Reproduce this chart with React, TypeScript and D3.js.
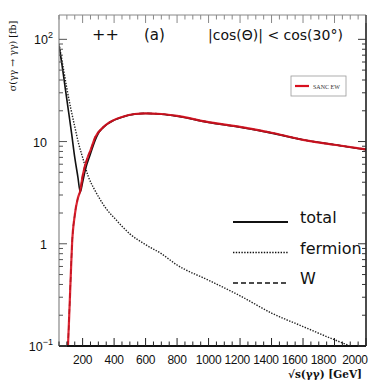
import { useEffect, useRef } from "react";
import * as d3 from "d3";

// sqrt(s) grid and values [fb]
const totalS = [50, 70, 90, 110, 130, 150, 170, 185, 200, 220, 250, 280, 300, 330, 400, 450, 530, 600, 700, 800, 1000, 1200, 1400, 1600, 1800, 2000];
const totalV = [87, 55, 33, 20, 12, 7, 4.5, 3.2, 4.0, 5.5, 7.6, 10.3, 12, 13.7, 16.2, 17.3, 18.5, 18.8, 18.5, 17.7, 15.4, 13.8, 12.1, 10.4, 9.3, 8.3];

const fermS = [50, 75, 100, 125, 150, 175, 200, 235, 275, 300, 350, 400, 500, 600, 700, 800, 1000, 1200, 1400, 1600, 1800, 2000];
const fermV = [90, 55, 33, 21, 14, 9.5, 7, 4.6, 3.4, 2.9, 2.2, 1.8, 1.25, 0.98, 0.8, 0.62, 0.44, 0.31, 0.21, 0.155, 0.115, 0.088];

const wS = [107, 115, 125, 133, 150, 170, 185, 200, 235, 250, 280, 330, 400, 450, 530, 600, 700, 800, 1000, 1200, 1400, 1600, 1800, 2000];
const wV = [0.1, 0.2, 0.5, 1.0, 1.9, 2.8, 3.3, 4.6, 7.2, 8.2, 11, 13.8, 16.3, 17.4, 18.6, 18.9, 18.6, 17.8, 15.5, 13.9, 12.2, 10.4, 9.3, 8.4];
const sancV = wV;

const xTickLabels = [200, 400, 600, 800, 1000, 1200, 1400, 1600, 1800, 2000];
const legendNames = ["total", "fermion", "W"];

export default function App() {
  const ref = useRef<SVGSVGElement>(null);

  useEffect(() => {
    const svg = d3.select(ref.current);
    svg.selectAll("*").remove();

    const left = 59, right = 366, top = 15, bottom = 346;
    const x = d3.scaleLinear().domain([50, 2000]).range([left, right]);
    const y = d3.scaleLog().domain([0.1, 173]).range([bottom, top]);

    svg.append("defs").append("clipPath").attr("id", "plotclip")
      .append("rect").attr("x", left).attr("y", top).attr("width", right - left).attr("height", bottom - top);

    const line = d3.line<[number, number]>()
      .x(d => x(d[0]))
      .y(d => y(d[1]))
      .curve(d3.curveMonotoneX);

    const g = svg.append("g").attr("clip-path", "url(#plotclip)");

    // fermion (dotted)
    g.append("path")
      .attr("d", line(fermS.map((s, i) => [s, fermV[i]] as [number, number])))
      .attr("fill", "none").attr("stroke", "#222").attr("stroke-width", 1.4)
      .attr("stroke-dasharray", "1.4,1.4");

    // W (dashed)
    g.append("path")
      .attr("d", line(wS.map((s, i) => [s, wV[i]] as [number, number])))
      .attr("fill", "none").attr("stroke", "#222").attr("stroke-width", 1.4)
      .attr("stroke-dasharray", "5,3");

    // total (solid)
    g.append("path")
      .attr("d", line(totalS.map((s, i) => [s, totalV[i]] as [number, number])))
      .attr("fill", "none").attr("stroke", "#111").attr("stroke-width", 1.6);

    // SANC EW (red)
    g.append("path")
      .attr("d", line(wS.map((s, i) => [s, sancV[i]] as [number, number])))
      .attr("fill", "none").attr("stroke", "#d8101e").attr("stroke-width", 2.2)
      .attr("opacity", 0.9);

    // frame
    svg.append("line").attr("x1", left).attr("x2", right).attr("y1", top).attr("y2", top).attr("stroke", "#888").attr("stroke-width", 1);
    svg.append("line").attr("x1", left).attr("x2", left).attr("y1", top).attr("y2", bottom).attr("stroke", "#888").attr("stroke-width", 1.2);
    svg.append("line").attr("x1", right).attr("x2", right).attr("y1", top).attr("y2", bottom).attr("stroke", "#111").attr("stroke-width", 1.5);
    svg.append("line").attr("x1", left).attr("x2", right).attr("y1", bottom).attr("y2", bottom).attr("stroke", "#111").attr("stroke-width", 1.8);

    // x ticks (inward, bottom and top)
    const xt = d3.range(50, 2001, 50);
    xt.forEach(v => {
      const major = v % 200 === 0;
      const len = major ? 8 : 4.5;
      svg.append("line").attr("x1", x(v)).attr("x2", x(v)).attr("y1", bottom).attr("y2", bottom - len)
        .attr("stroke", "#222").attr("stroke-width", 1);
      svg.append("line").attr("x1", x(v)).attr("x2", x(v)).attr("y1", top).attr("y2", top + len)
        .attr("stroke", "#888").attr("stroke-width", 1);
    });

    // y ticks (inward, left and right)
    const yt: number[] = [];
    [0.1, 1, 10, 100].forEach(d => { for (let k = 1; k < 10; k++) if (d * k <= 173) yt.push(d * k); });
    yt.forEach(v => {
      const major = Math.abs(Math.log10(v) - Math.round(Math.log10(v))) < 1e-6;
      const len = major ? 8 : 4;
      svg.append("line").attr("x1", left).attr("x2", left + len).attr("y1", y(v)).attr("y2", y(v))
        .attr("stroke", "#555").attr("stroke-width", 1);
      svg.append("line").attr("x1", right).attr("x2", right - len).attr("y1", y(v)).attr("y2", y(v))
        .attr("stroke", "#333").attr("stroke-width", 1);
    });

    const font = "'Liberation Sans', Arial, sans-serif";

    // x tick labels (the original packs the 4-digit labels slightly leftwards)
    xTickLabels.forEach(v => {
      const shift = v > 1000 ? Math.min(11, ((v - 1000) / 1000) * 14) : 0;
      svg.append("text").attr("x", x(v) - shift).attr("y", 364)
        .attr("text-anchor", "middle").attr("font-family", font).attr("font-size", 12)
        .attr("letter-spacing", -0.3)
        .attr("fill", "#111").text(v);
    });

    // y tick labels
    const yl: [number, string, string][] = [[100, "10", "2"], [10, "10", ""], [1, "1", ""], [0.1, "10", "\u22121"]];
    yl.forEach(([v, base, sup]) => {
      const t = svg.append("text").attr("x", 47).attr("y", y(v) + 5)
        .attr("text-anchor", "end").attr("font-family", font).attr("font-size", 12.5).attr("fill", "#111");
      if (sup) {
        t.attr("x", 53);
        t.append("tspan").text(base);
        t.append("tspan").attr("dy", -6).attr("font-size", 9).text(sup);
      } else {
        t.text(base);
      }
    });

    // axis titles
    svg.append("text")
      .attr("transform", `translate(16,56) rotate(-90)`)
      .attr("text-anchor", "middle").attr("font-family", "'DejaVu Serif', serif").attr("font-size", 9.5)
      .attr("fill", "#111").text("\u03c3(\u03b3\u03b3 \u2192 \u03b3\u03b3) [fb]");
    svg.append("text").attr("x", 362).attr("y", 378).attr("text-anchor", "end")
      .attr("font-family", "'DejaVu Serif', serif").attr("font-size", 10.5).attr("font-weight", "bold").attr("fill", "#111")
      .text("\u221as(\u03b3\u03b3) [GeV]");

    // annotations
    const afont = "'DejaVu Sans', sans-serif";
    svg.append("text").attr("x", 92).attr("y", 40).attr("font-family", afont).attr("font-size", 16).attr("fill", "#111").text("++");
    svg.append("text").attr("x", 144).attr("y", 40).attr("font-family", afont).attr("font-size", 15).attr("fill", "#111").text("(a)");
    svg.append("text").attr("x", 208).attr("y", 40).attr("font-family", afont).attr("font-size", 14).attr("fill", "#111")
      .text("|cos(\u0398)| < cos(30\u00b0)");

    // SANC legend box
    svg.append("rect").attr("x", 291).attr("y", 76).attr("width", 55).attr("height", 20)
      .attr("fill", "white").attr("stroke", "#999").attr("stroke-width", 0.8);
    svg.append("line").attr("x1", 295).attr("x2", 309).attr("y1", 86).attr("y2", 86)
      .attr("stroke", "#d8101e").attr("stroke-width", 2.2);
    svg.append("text").attr("x", 313).attr("y", 88.5).attr("font-family", "'Liberation Serif', serif")
      .attr("font-size", 6).attr("fill", "#333").text("SANC EW");

    // main legend
    const dashes = [null, "1.4,1.4", "5,3"];
    legendNames.forEach((name, i) => {
      const ly = 222 + i * 30.5;
      const l = svg.append("line").attr("x1", 233).attr("x2", 288).attr("y1", ly).attr("y2", ly)
        .attr("stroke", "#111").attr("stroke-width", i === 0 ? 1.8 : 1.4);
      if (dashes[i]) l.attr("stroke-dasharray", dashes[i] as string);
      svg.append("text").attr("x", 300).attr("y", ly + 1).attr("font-family", afont)
        .attr("font-size", 16).attr("fill", "#111").text(name);
    });
  }, []);

  return (
    <svg ref={ref} width={384} height={382}
      style={{ position: "absolute", left: 0, top: 0, background: "white" }} />
  );
}
